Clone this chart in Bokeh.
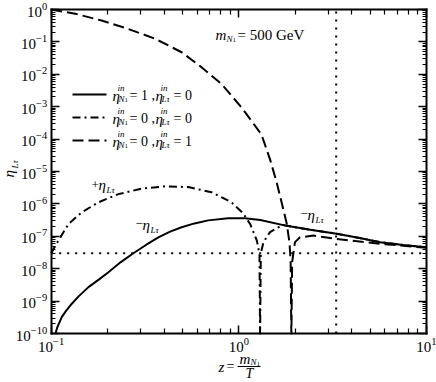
from bokeh.plotting import figure
from bokeh.models import Range1d, FixedTicker, LogAxis, Label, Arrow, CustomJSTickFormatter
from bokeh.embed import file_html
from bokeh.resources import INLINE
import math

# ---------------- data ----------------
z_solid = [0.1054, 0.108, 0.1138, 0.12, 0.1288, 0.14, 0.158, 0.18, 0.2018, 0.235, 0.274, 0.32,
           0.3724, 0.43, 0.4955, 0.58, 0.687, 0.877, 1.076, 1.3, 1.8, 2.4, 3.32, 4.4, 5.65, 7.5, 10.0]
eta_solid = [1.0e-10, 1.6e-10, 3.2e-10, 5.0e-10, 8.3e-10, 1.4e-9, 2.7e-9, 4.7e-9, 7.8e-9, 1.6e-8, 3.0e-8, 5.4e-8,
             9.3e-8, 1.4e-7, 1.9e-7, 2.5e-7, 3.1e-7, 3.6e-7, 3.6e-7, 3.2e-7, 2.1e-7, 1.6e-7, 1.2e-7,
             8.9e-8, 6.6e-8, 5.4e-8, 4.6e-8]

z_dashdot = [0.1, 0.1072, 0.1236, 0.1455, 0.1786, 0.228, 0.303, 0.404, 0.537, 0.714,
             0.914, 1.054, 1.148, 1.247, 1.288, 1.2975, 1.2985, 1.309, 1.352, 1.466, 1.626,
             1.726, 1.8, 2.4, 3.32, 4.4, 5.65, 7.5, 10.0]
eta_dashdot = [3.0e-8, 6.2e-8, 2.4e-7, 5.5e-7, 1.12e-6, 2.0e-6, 2.95e-6, 3.5e-6, 3.3e-6, 2.3e-6,
               1.12e-6, 5.1e-7, 2.4e-7, 7.4e-8, 2.9e-8, 1.0e-10, 1.0e-10, 2.9e-8, 6.6e-8, 1.35e-7, 1.9e-7,
               2.24e-7, 2.1e-7, 1.6e-7, 1.2e-7, 8.9e-8, 6.6e-8, 5.4e-8, 4.6e-8]

z_dashed = [0.1, 0.1343, 0.1858, 0.2576, 0.357, 0.4955, 0.632, 0.807, 1.033, 1.318,
            1.462, 1.585, 1.698, 1.799, 1.862, 1.888, 1.904, 1.906, 1.923, 1.991, 2.118,
            2.495, 3.32, 5.65, 10.0]
eta_dashed = [1.0, 0.74, 0.457, 0.251, 0.126, 0.0479, 0.0166, 5.1e-3, 9.5e-4, 1.41e-4,
              2.5e-5, 5.0e-6, 1.0e-6, 2.5e-7, 6.3e-8, 1.6e-8, 1.0e-10, 1.0e-10, 1.6e-8, 6.6e-8, 9.3e-8,
              1.05e-7, 8.3e-8, 5.9e-8, 4.4e-8]

eta_hline = 3.0e-8      # horizontal dotted line
z_vline = 3.3           # vertical dotted line

x_major = [0.1, 1.0, 10.0]
x_minor = [m * 10.0 ** k for k in (-1, 0) for m in range(2, 10)]
y_major = [10.0 ** k for k in range(-10, 1)]
y_minor = [m * 10.0 ** k for k in range(-10, 0) for m in range(2, 10)]

# ---------------- layout ----------------
FONT = "Liberation Serif"
W, H = 436, 382
BOX_L, BOX_R, BOX_T, BOX_B = 50.7, 426.0, 9.0, 333.0   # axes box inside the canvas (px)

lx0, lx1 = math.log10(x_major[0]), math.log10(x_major[-1])
ly0, ly1 = math.log10(y_major[0]), math.log10(y_major[-1])
xdec = (BOX_R - BOX_L) / (lx1 - lx0)
ydec = (BOX_B - BOX_T) / (ly1 - ly0)
x_start = 10 ** (lx0 - BOX_L / xdec)
x_end = 10 ** (lx1 + (W - BOX_R) / xdec)
y_start = 10 ** (ly0 - (H - BOX_B) / ydec)
y_end = 10 ** (ly1 + BOX_T / ydec)

p = figure(width=W, height=H, x_axis_type="log", y_axis_type="log",
           x_range=Range1d(x_start, x_end), y_range=Range1d(y_start, y_end),
           output_backend="svg", toolbar_location=None,
           min_border_left=0, min_border_right=0, min_border_top=0, min_border_bottom=0)
p.xgrid.visible = False
p.ygrid.visible = False
p.outline_line_color = None
p.background_fill_color = "white"
p.border_fill_color = "white"


def style_axis(ax, labels=True):
    ax.axis_line_width = 2
    ax.axis_line_color = "black"
    ax.axis_line_cap = "square"
    ax.major_tick_in = 8
    ax.major_tick_out = 0
    ax.minor_tick_in = 4
    ax.minor_tick_out = 0
    ax.major_tick_line_width = 1.5
    ax.minor_tick_line_width = 1.2
    ax.major_tick_line_color = "black"
    ax.minor_tick_line_color = "black"
    if labels:
        ax.major_label_text_font = FONT
        ax.major_label_text_font_size = "15px"
        ax.major_label_text_color = "black"
        ax.major_label_standoff = 4
    else:
        ax.formatter = CustomJSTickFormatter(code="return ''")
        ax.major_label_text_font_size = "1px"
        ax.major_label_standoff = 0


xb = p.xaxis[0]
xb.ticker = FixedTicker(ticks=x_major, minor_ticks=x_minor)
xb.fixed_location = y_major[0]
xb.bounds = (x_major[0], x_major[-1])
style_axis(xb)
xb.minor_tick_in = 5

yl = p.yaxis[0]
yl.ticker = FixedTicker(ticks=y_major, minor_ticks=y_minor)
yl.fixed_location = x_major[0]
yl.bounds = (y_major[0], y_major[-1])
style_axis(yl)

top = LogAxis(ticker=FixedTicker(ticks=x_major, minor_ticks=x_minor),
              fixed_location=y_major[-1], bounds=(x_major[0], x_major[-1]))
style_axis(top, labels=False)
top.minor_tick_in = 5
p.add_layout(top, "above")

right = LogAxis(ticker=FixedTicker(ticks=y_major, minor_ticks=y_minor),
                fixed_location=x_major[-1], bounds=(y_major[0], y_major[-1]))
style_axis(right, labels=False)
p.add_layout(right, "right")

# curves
p.line(z_solid, eta_solid, line_color="black", line_width=2, line_join="round")
p.line(z_dashdot, eta_dashdot, line_color="black", line_width=2, line_dash="8 4 2 4", line_join="round")
p.line(z_dashed, eta_dashed, line_color="black", line_width=2, line_dash="11 5", line_join="round")

# dotted reference lines
p.line([x_major[0], x_major[-1]], [eta_hline, eta_hline], line_color="black",
       line_width=2, line_dash="2 6")
p.line([z_vline, z_vline], [y_major[0], y_major[-1]], line_color="black",
       line_width=2, line_dash="2 6")


# ---------------- annotations (positions in canvas pixels, from top-left) ----------------
def lab(x, y, text, size, style="normal", angle=0.0, align="left"):
    p.add_layout(Label(x=x, y=H - y, x_units="screen", y_units="screen",
                       text=text, text_font=FONT, text_font_size=f"{size}px",
                       text_font_style=style, text_color="black",
                       text_baseline="middle", text_align=align, angle=angle))


def seg(x0, y0, x1, y1, dash="solid", width=2):
    p.add_layout(Arrow(end=None, x_start=x0, y_start=H - y0, x_end=x1, y_end=H - y1,
                       start_units="screen", end_units="screen",
                       line_color="black", line_width=width, line_dash=dash))


def eta_sym(x, y, sub):
    lab(x, y + 1, "η", 15, "italic")
    lab(x + 5, y - 7, "in", 9, "italic")
    if sub == "N1":
        lab(x + 6, y + 4, "N", 9, "italic")
        lab(x + 12, y + 5.5, "1", 7)
    else:
        lab(x + 6, y + 4, "Lτ", 9, "italic")


legend_rows = [(94, "solid", "1", "0"), (117, "8 4 2 4", "0", "0"), (140, "11 5", "0", "1")]
for (yy, dash, a, b) in legend_rows:
    seg(72, yy, 106, yy, dash)
    eta_sym(112, yy, "N1")
    lab(129, yy + 1, "= " + a + " ,", 14)
    eta_sym(155, yy, "Lτ")
    lab(173, yy + 1, "= " + b, 14)

# m_N1 = 500 GeV
lab(215, 34, "m", 15, "italic")
lab(226, 38, "N", 9, "italic")
lab(232, 39.5, "1", 7)
lab(237, 34, "= 500 GeV", 15)

# +eta_Ltau
lab(91, 184, "+", 13)
lab(98, 184, "η", 15, "italic")
lab(106, 189, "Lτ", 9, "italic")
# -eta_Ltau (left)
lab(135, 223, "−", 13)
lab(142, 224, "η", 15, "italic")
lab(150, 229, "Lτ", 9, "italic")
# -eta_Ltau (right)
lab(300, 213, "−", 13)
lab(307, 214, "η", 15, "italic")
lab(315, 219, "Lτ", 9, "italic")

# y axis label (rotated)
lab(8, 177, "η", 15, "italic", angle=math.pi / 2)
lab(14, 168, "Lτ", 9, "italic", angle=math.pi / 2)

# x axis label z = m_N1 / T
lab(218, 366, "z", 15, "italic")
lab(226, 366, "=", 14)
lab(239, 358, "m", 15, "italic")
lab(250, 361, "N", 9, "italic")
lab(256, 363, "1", 7)
seg(237, 366, 260, 366, "solid", 1)
lab(249, 373, "T", 14, "italic", align="center")

open("out.html", "w").write(file_html(p, INLINE))
